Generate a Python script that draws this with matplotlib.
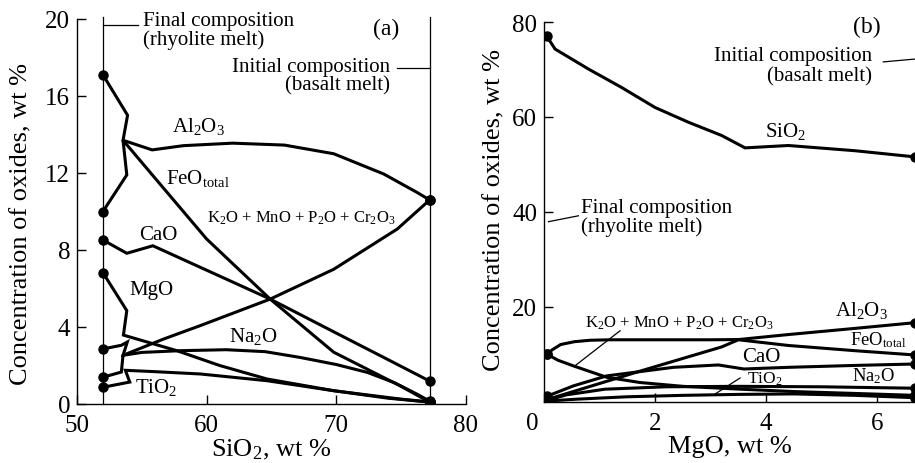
import matplotlib
matplotlib.use("Agg")
import matplotlib.pyplot as plt
from matplotlib.transforms import ScaledTranslation

plt.rcParams['font.family'] = ['Liberation Serif', 'DejaVu Serif']
plt.rcParams['mathtext.fontset'] = 'custom'
plt.rcParams['mathtext.rm'] = 'Liberation Serif'
plt.rcParams['mathtext.it'] = 'Liberation Serif:italic'
plt.rcParams['mathtext.bf'] = 'Liberation Serif:bold'

# ---------------- Panel (a): oxides vs SiO2 ----------------
al2o3_a_x = [52.0, 53.9, 53.55, 55.8, 58.2, 62.0, 66.0, 69.8, 73.65, 76.2, 77.2]
al2o3_a_y = [17.1, 15.0, 13.7, 13.2, 13.42, 13.55, 13.45, 13.0, 11.95, 11.0, 10.6]

feo_a_x = [52.0, 53.84, 53.55, 56.5, 60.0, 64.9, 69.8, 74.9, 77.2]
feo_a_y = [10.0, 11.9, 13.7, 11.35, 8.57, 5.45, 2.69, 0.95, 0.1]

k2o_a_x = [52.0, 53.42, 53.55, 56.7, 59.5, 64.9, 69.8, 74.7, 77.2]
k2o_a_y = [1.39, 1.66, 2.53, 3.38, 4.07, 5.45, 7.0, 9.09, 10.6]

cao_a_x = [52.0, 53.84, 55.85, 60.0, 64.9, 69.8, 74.0, 77.2]
cao_a_y = [8.52, 7.83, 8.22, 6.95, 5.45, 3.75, 2.3, 1.19]

mgo_a_x = [52.0, 53.84, 53.58, 57.7, 61.0, 64.65, 69.8, 74.0, 77.2]
mgo_a_y = [6.82, 4.85, 3.58, 2.77, 2.0, 1.30, 0.69, 0.3, 0.1]

na2o_a_x = [52.0, 53.42, 53.88, 53.55, 55.0, 58.0, 61.5, 64.5, 67.2, 70.0, 72.4, 74.5, 76.2, 77.2]
na2o_a_y = [2.86, 3.05, 3.22, 2.53, 2.68, 2.77, 2.82, 2.72, 2.42, 2.05, 1.64, 1.1, 0.52, 0.15]

tio2_a_x = [52.0, 54.07, 53.73, 56.0, 59.5, 64.65, 69.8, 74.9, 77.2]
tio2_a_y = [0.87, 1.14, 1.75, 1.68, 1.56, 1.21, 0.69, 0.26, 0.1]

final_sio2 = 52.0
initial_sio2 = 77.2
xticks_a = [50, 60, 70, 80]
yticks_a = [0, 4, 8, 12, 16, 20]

# ---------------- Panel (b): oxides vs MgO ----------------
sio2_b_x = [0.05, 0.2, 0.8, 1.4, 2.0, 2.6, 3.2, 3.62, 4.4, 5.6, 6.68]
sio2_b_y = [77.0, 74.3, 70.1, 66.2, 62.0, 58.9, 56.1, 53.5, 54.0, 52.9, 51.6]

al2o3_b_x = [0.05, 0.15, 0.3, 0.55, 0.83, 1.2, 1.73, 2.5, 3.0, 3.5, 4.4, 5.6, 6.68]
al2o3_b_y = [10.1, 11.0, 12.1, 12.7, 13.0, 13.1, 13.1, 13.1, 13.1, 13.15, 14.2, 15.5, 16.7]

feo_b_x = [0.05, 1.73, 3.2, 3.5, 4.4, 5.6, 6.68]
feo_b_y = [0.5, 6.5, 11.6, 13.1, 11.9, 10.8, 9.9]

cao_b_x = [0.05, 0.53, 1.13, 2.33, 3.14, 3.6, 4.4, 5.6, 6.68]
cao_b_y = [1.2, 3.4, 5.5, 7.3, 7.8, 6.95, 7.3, 7.7, 8.0]

na2o_b_x = [0.05, 0.4, 1.1, 2.2, 3.5, 5.0, 6.68]
na2o_b_y = [0.3, 1.5, 2.7, 3.2, 3.3, 3.2, 2.9]

k2o_b_x = [0.05, 0.25, 0.53, 1.13, 1.73, 2.5, 3.53, 4.5, 5.6, 6.68]
k2o_b_y = [10.1, 8.8, 7.6, 5.2, 4.1, 3.3, 2.7, 2.2, 1.8, 1.4]

tio2_b_x = [0.05, 0.6, 1.5, 2.5, 3.5, 4.5, 5.6, 6.68]
tio2_b_y = [0.2, 0.6, 1.1, 1.4, 1.6, 1.7, 1.4, 0.9]

xticks_b = [0, 2, 4, 6]
yticks_b = [20, 40, 60, 80]

LW = 2.2
MS = 6.5
TICK_FS = 18
LABEL_FS = 19

fig = plt.figure(figsize=(9.15, 4.64), dpi=100)
axa = fig.add_axes([77 / 915, 59 / 464, 389 / 915, 385 / 464])
axb = fig.add_axes([544 / 915, 61 / 464, 371 / 915, 380 / 464])


def style(ax):
    for s in ['top', 'right']:
        ax.spines[s].set_visible(False)
    for s in ['left', 'bottom']:
        ax.spines[s].set_linewidth(1.0)
    ax.tick_params(direction='in', length=6.5, width=1.0, labelsize=TICK_FS)
    ax.tick_params(axis='x', pad=7)
    ax.tick_params(axis='y', pad=5)


def curve(ax, x, y):
    ax.plot(x, y, color='black', lw=LW, solid_joinstyle='miter',
            marker='o', markersize=MS, markevery=[0, len(x) - 1])


# ---- panel a ----
for xs, ys in [(al2o3_a_x, al2o3_a_y), (feo_a_x, feo_a_y), (k2o_a_x, k2o_a_y),
               (cao_a_x, cao_a_y), (mgo_a_x, mgo_a_y), (na2o_a_x, na2o_a_y),
               (tio2_a_x, tio2_a_y)]:
    curve(axa, xs, ys)

axa.set_xlim(50, 80)
axa.set_ylim(0, 20)
axa.set_xticks(xticks_a)
axa.set_yticks(yticks_a)
style(axa)
axa.plot([final_sio2, final_sio2], [0, 20.1], color='black', lw=0.9, clip_on=False)
axa.plot([initial_sio2, initial_sio2], [0, 20.1], color='black', lw=0.9, clip_on=False)
axa.plot([final_sio2, 54.71], [19.69, 19.69], color='black', lw=0.9)
axa.plot([74.71, initial_sio2], [17.45, 17.45], color='black', lw=0.9)

axa.set_xlabel('SiO$_2$, wt %', fontsize=LABEL_FS, labelpad=1)
axa.set_ylabel('Concentration of oxides, wt %', fontsize=LABEL_FS)
axa.yaxis.set_label_coords(-0.114, 0.47)

A_FS = 15
axa.text(55.07, 19.69, 'Final composition', fontsize=A_FS, ha='left', va='baseline')
axa.text(55.07, 18.70, '(rhyolite melt)', fontsize=A_FS, ha='left', va='baseline')
axa.text(74.17, 17.32, 'Initial composition', fontsize=A_FS, ha='right', va='baseline')
axa.text(74.17, 16.33, '(basalt melt)', fontsize=A_FS, ha='right', va='baseline')
axa.text(72.83, 19.22, '(a)', fontsize=17, ha='left', va='baseline')

axa.text(57.31, 14.16, 'Al$_2$O$_3$', fontsize=15, ha='left', va='baseline')
axa.text(56.87, 11.46, 'FeO$_{\\mathrm{total}}$', fontsize=15, ha='left', va='baseline')
axa.text(60.01, 9.47, 'K$_2$O + MnO + P$_2$O + Cr$_2$O$_3$', fontsize=12, ha='left', va='baseline')
axa.text(54.81, 8.57, 'CaO', fontsize=15, ha='left', va='baseline')
axa.text(54.04, 5.71, 'MgO', fontsize=15, ha='left', va='baseline')
axa.text(61.69, 3.29, 'Na$_2$O', fontsize=15, ha='left', va='baseline')
axa.text(54.48, 0.61, 'TiO$_2$', fontsize=15, ha='left', va='baseline')

# ---- panel b ----
for xs, ys in [(sio2_b_x, sio2_b_y), (al2o3_b_x, al2o3_b_y), (feo_b_x, feo_b_y),
               (cao_b_x, cao_b_y), (na2o_b_x, na2o_b_y), (k2o_b_x, k2o_b_y),
               (tio2_b_x, tio2_b_y)]:
    curve(axb, xs, ys)

axb.set_xlim(0, 6.68)
axb.set_ylim(0, 80)
axb.set_xticks(xticks_b)
axb.set_yticks(yticks_b)
style(axb)
axb.set_xlabel('MgO, wt %', fontsize=LABEL_FS, labelpad=1)
axb.set_ylabel('Concentration of oxides, wt %', fontsize=LABEL_FS)
axb.yaxis.set_label_coords(-0.103, 0.508)

axb.plot([6.11, 6.68], [71.6, 72.2], color='black', lw=0.9, clip_on=False)
axb.plot([0.08, 0.62], [37.96, 39.2], color='black', lw=0.9)
axb.plot([1.37, 0.56], [15.0, 7.64], color='black', lw=0.9)
axb.plot([3.53, 3.08], [5.05, 1.68], color='black', lw=0.9)

axb.text(5.57, 77.8, '(b)', fontsize=17, ha='left', va='baseline')
axb.text(5.90, 71.9, 'Initial composition', fontsize=A_FS, ha='right', va='baseline')
axb.text(5.90, 67.6, '(basalt melt)', fontsize=A_FS, ha='right', va='baseline')
axb.text(0.667, 39.9, 'Final composition', fontsize=A_FS, ha='left', va='baseline')
axb.text(0.667, 36.1, '(rhyolite melt)', fontsize=A_FS, ha='left', va='baseline')
axb.text(3.98, 56.1, 'SiO$_2$', fontsize=15, ha='left', va='baseline')
axb.text(5.24, 18.3, 'Al$_2$O$_3$', fontsize=15, ha='left', va='baseline')
axb.text(5.51, 12.2, 'FeO$_{\\mathrm{total}}$', fontsize=13.3, ha='left', va='baseline')
axb.text(3.56, 8.7, 'CaO', fontsize=15, ha='left', va='baseline')
axb.text(3.65, 4.14, 'TiO$_2$', fontsize=12.5, ha='left', va='baseline')
axb.text(5.54, 4.49, 'Na$_2$O', fontsize=13.3, ha='left', va='baseline')
axb.text(0.74, 15.9, 'K$_2$O + MnO + P$_2$O + Cr$_2$O$_3$', fontsize=12, ha='left', va='baseline')

# shift the "0" x tick label of panel b left of the axis, as in the original
lbl0 = axb.get_xticklabels()[0]
lbl0.set_transform(lbl0.get_transform() + ScaledTranslation(-0.12, 0, fig.dpi_scale_trans))

fig.savefig('out.png', dpi=100)
